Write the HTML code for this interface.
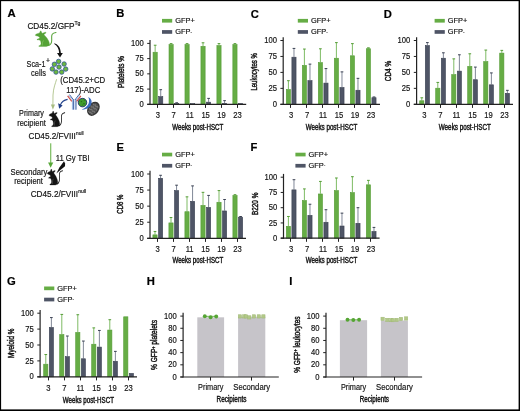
<!DOCTYPE html>
<html><head><meta charset="utf-8"><style>
html,body{margin:0;padding:0;background:#fff;}
body{position:relative;width:520px;height:411px;overflow:hidden;}
svg{display:block;}
text{font-family:'Liberation Sans', sans-serif;stroke:#151515;stroke-width:0.18px;}
svg{filter:blur(0.3px);}
</style></head><body>
<svg width="520" height="411" viewBox="0 0 520 411">
<rect x="0" y="0" width="520" height="411" fill="#fff"/>
<line x1="155.15" y1="45.23" x2="155.15" y2="51.93" stroke="#6fb352" stroke-width="0.9"/>
<line x1="153.80" y1="45.23" x2="156.50" y2="45.23" stroke="#559c36" stroke-width="1.0"/>
<rect x="153.05" y="52.23" width="4.20" height="52.07" fill="#66ad45" stroke="#559c36" stroke-width="0.6"/>
<line x1="160.72" y1="89.68" x2="160.72" y2="96.38" stroke="#737a8b" stroke-width="0.9"/>
<line x1="159.38" y1="89.68" x2="162.07" y2="89.68" stroke="#3a4152" stroke-width="1.0"/>
<rect x="158.65" y="96.68" width="4.15" height="7.62" fill="#4f5566" stroke="#3a4152" stroke-width="0.6"/>
<line x1="171.11" y1="43.64" x2="171.11" y2="44.31" stroke="#6fb352" stroke-width="0.9"/>
<line x1="169.76" y1="43.64" x2="172.46" y2="43.64" stroke="#559c36" stroke-width="1.0"/>
<rect x="169.01" y="44.61" width="4.20" height="59.69" fill="#66ad45" stroke="#559c36" stroke-width="0.6"/>
<line x1="176.69" y1="102.78" x2="176.69" y2="103.20" stroke="#737a8b" stroke-width="0.9"/>
<line x1="175.34" y1="102.78" x2="178.03" y2="102.78" stroke="#3a4152" stroke-width="1.0"/>
<rect x="174.61" y="103.50" width="4.15" height="0.80" fill="#4f5566" stroke="#3a4152" stroke-width="0.6"/>
<line x1="187.07" y1="43.64" x2="187.07" y2="44.31" stroke="#6fb352" stroke-width="0.9"/>
<line x1="185.72" y1="43.64" x2="188.42" y2="43.64" stroke="#559c36" stroke-width="1.0"/>
<rect x="184.97" y="44.61" width="4.20" height="59.69" fill="#66ad45" stroke="#559c36" stroke-width="0.6"/>
<rect x="190.57" y="103.63" width="4.15" height="0.67" fill="#4f5566" stroke="#3a4152" stroke-width="0.6"/>
<line x1="203.03" y1="42.79" x2="203.03" y2="46.02" stroke="#6fb352" stroke-width="0.9"/>
<line x1="201.68" y1="42.79" x2="204.38" y2="42.79" stroke="#559c36" stroke-width="1.0"/>
<rect x="200.93" y="46.32" width="4.20" height="57.98" fill="#66ad45" stroke="#559c36" stroke-width="0.6"/>
<line x1="208.60" y1="98.39" x2="208.60" y2="101.86" stroke="#737a8b" stroke-width="0.9"/>
<line x1="207.25" y1="98.39" x2="209.95" y2="98.39" stroke="#3a4152" stroke-width="1.0"/>
<rect x="206.53" y="102.16" width="4.15" height="2.14" fill="#4f5566" stroke="#3a4152" stroke-width="0.6"/>
<line x1="218.99" y1="43.64" x2="218.99" y2="45.29" stroke="#6fb352" stroke-width="0.9"/>
<line x1="217.64" y1="43.64" x2="220.34" y2="43.64" stroke="#559c36" stroke-width="1.0"/>
<rect x="216.89" y="45.59" width="4.20" height="58.71" fill="#66ad45" stroke="#559c36" stroke-width="0.6"/>
<line x1="224.56" y1="100.65" x2="224.56" y2="103.08" stroke="#737a8b" stroke-width="0.9"/>
<line x1="223.22" y1="100.65" x2="225.91" y2="100.65" stroke="#3a4152" stroke-width="1.0"/>
<rect x="222.49" y="103.38" width="4.15" height="0.92" fill="#4f5566" stroke="#3a4152" stroke-width="0.6"/>
<line x1="234.95" y1="43.64" x2="234.95" y2="44.31" stroke="#6fb352" stroke-width="0.9"/>
<line x1="233.60" y1="43.64" x2="236.30" y2="43.64" stroke="#559c36" stroke-width="1.0"/>
<rect x="232.85" y="44.61" width="4.20" height="59.69" fill="#66ad45" stroke="#559c36" stroke-width="0.6"/>
<rect x="238.45" y="103.50" width="4.15" height="0.80" fill="#4f5566" stroke="#3a4152" stroke-width="0.6"/>
<line x1="150.00" y1="40.10" x2="150.00" y2="104.90" stroke="#222" stroke-width="1.2"/>
<line x1="147.20" y1="104.30" x2="246.20" y2="104.30" stroke="#222" stroke-width="1.2"/>
<line x1="147.20" y1="104.30" x2="150.00" y2="104.30" stroke="#222" stroke-width="1.0"/>
<text transform="translate(143.70 106.90) scale(0.92 1)" font-size="8.3" text-anchor="end" font-weight="normal" fill="#151515">0</text>
<line x1="147.20" y1="89.08" x2="150.00" y2="89.08" stroke="#222" stroke-width="1.0"/>
<text transform="translate(143.70 91.67) scale(0.92 1)" font-size="8.3" text-anchor="end" font-weight="normal" fill="#151515">25</text>
<line x1="147.20" y1="73.85" x2="150.00" y2="73.85" stroke="#222" stroke-width="1.0"/>
<text transform="translate(143.70 76.45) scale(0.92 1)" font-size="8.3" text-anchor="end" font-weight="normal" fill="#151515">50</text>
<line x1="147.20" y1="58.62" x2="150.00" y2="58.62" stroke="#222" stroke-width="1.0"/>
<text transform="translate(143.70 61.23) scale(0.92 1)" font-size="8.3" text-anchor="end" font-weight="normal" fill="#151515">75</text>
<line x1="147.20" y1="43.40" x2="150.00" y2="43.40" stroke="#222" stroke-width="1.0"/>
<text transform="translate(143.70 46.00) scale(0.92 1)" font-size="8.3" text-anchor="end" font-weight="normal" fill="#151515">100</text>
<line x1="157.50" y1="104.30" x2="157.50" y2="107.90" stroke="#222" stroke-width="1.0"/>
<text transform="translate(157.75 118.10) scale(0.92 1)" font-size="8.3" text-anchor="middle" font-weight="normal" fill="#151515">3</text>
<line x1="173.50" y1="104.30" x2="173.50" y2="107.90" stroke="#222" stroke-width="1.0"/>
<text transform="translate(173.71 118.10) scale(0.92 1)" font-size="8.3" text-anchor="middle" font-weight="normal" fill="#151515">7</text>
<line x1="189.50" y1="104.30" x2="189.50" y2="107.90" stroke="#222" stroke-width="1.0"/>
<text transform="translate(189.67 118.10) scale(0.92 1)" font-size="8.3" text-anchor="middle" font-weight="normal" fill="#151515">11</text>
<line x1="205.50" y1="104.30" x2="205.50" y2="107.90" stroke="#222" stroke-width="1.0"/>
<text transform="translate(205.63 118.10) scale(0.92 1)" font-size="8.3" text-anchor="middle" font-weight="normal" fill="#151515">15</text>
<line x1="221.50" y1="104.30" x2="221.50" y2="107.90" stroke="#222" stroke-width="1.0"/>
<text transform="translate(221.59 118.10) scale(0.92 1)" font-size="8.3" text-anchor="middle" font-weight="normal" fill="#151515">19</text>
<line x1="237.50" y1="104.30" x2="237.50" y2="107.90" stroke="#222" stroke-width="1.0"/>
<text transform="translate(237.55 118.10) scale(0.92 1)" font-size="8.3" text-anchor="middle" font-weight="normal" fill="#151515">23</text>
<text x="172.30" y="129.50" font-size="8.6" text-anchor="start" font-weight="normal" fill="#151515" textLength="51.00" lengthAdjust="spacingAndGlyphs" style="stroke-width:0.45px">Weeks post-HSCT</text>
<text x="124.00" y="72.00" font-size="8.8" text-anchor="middle" font-weight="normal" fill="#151515" textLength="32.10" lengthAdjust="spacingAndGlyphs" transform="rotate(-90 124.00 72.00)" style="stroke-width:0.45px">Platelets %</text>
<rect x="162.00" y="18.90" width="10.20" height="3.70" fill="#66ad45"/>
<rect x="162.00" y="30.10" width="10.20" height="3.70" fill="#4f5566"/>
<text x="175.20" y="22.90" font-size="7.4" text-anchor="start" font-weight="normal" fill="#151515">GFP+</text>
<text x="175.20" y="34.20" font-size="7.4" text-anchor="start" font-weight="normal" fill="#151515">GFP<tspan font-size="4.6" dy="-0.6">-</tspan></text>
<text x="116.30" y="17.00" font-size="11.2" text-anchor="start" font-weight="bold" fill="#000" style="stroke:#000;stroke-width:0.2px">B</text>
<line x1="288.40" y1="80.69" x2="288.40" y2="89.24" stroke="#6fb352" stroke-width="0.9"/>
<line x1="287.05" y1="80.69" x2="289.75" y2="80.69" stroke="#559c36" stroke-width="1.0"/>
<rect x="286.30" y="89.54" width="4.20" height="14.76" fill="#66ad45" stroke="#559c36" stroke-width="0.6"/>
<line x1="293.98" y1="48.41" x2="293.98" y2="56.90" stroke="#737a8b" stroke-width="0.9"/>
<line x1="292.62" y1="48.41" x2="295.33" y2="48.41" stroke="#3a4152" stroke-width="1.0"/>
<rect x="291.90" y="57.20" width="4.15" height="47.10" fill="#4f5566" stroke="#3a4152" stroke-width="0.6"/>
<line x1="304.40" y1="49.05" x2="304.40" y2="65.06" stroke="#6fb352" stroke-width="0.9"/>
<line x1="303.05" y1="49.05" x2="305.75" y2="49.05" stroke="#559c36" stroke-width="1.0"/>
<rect x="302.30" y="65.36" width="4.20" height="38.94" fill="#66ad45" stroke="#559c36" stroke-width="0.6"/>
<line x1="309.98" y1="64.11" x2="309.98" y2="80.38" stroke="#737a8b" stroke-width="0.9"/>
<line x1="308.62" y1="64.11" x2="311.33" y2="64.11" stroke="#3a4152" stroke-width="1.0"/>
<rect x="307.90" y="80.67" width="4.15" height="23.62" fill="#4f5566" stroke="#3a4152" stroke-width="0.6"/>
<line x1="320.40" y1="48.79" x2="320.40" y2="62.32" stroke="#6fb352" stroke-width="0.9"/>
<line x1="319.05" y1="48.79" x2="321.75" y2="48.79" stroke="#559c36" stroke-width="1.0"/>
<rect x="318.30" y="62.62" width="4.20" height="41.68" fill="#66ad45" stroke="#559c36" stroke-width="0.6"/>
<line x1="325.98" y1="68.57" x2="325.98" y2="82.80" stroke="#737a8b" stroke-width="0.9"/>
<line x1="324.62" y1="68.57" x2="327.33" y2="68.57" stroke="#3a4152" stroke-width="1.0"/>
<rect x="323.90" y="83.10" width="4.15" height="21.20" fill="#4f5566" stroke="#3a4152" stroke-width="0.6"/>
<line x1="336.40" y1="42.61" x2="336.40" y2="57.92" stroke="#6fb352" stroke-width="0.9"/>
<line x1="335.05" y1="42.61" x2="337.75" y2="42.61" stroke="#559c36" stroke-width="1.0"/>
<rect x="334.30" y="58.22" width="4.20" height="46.08" fill="#66ad45" stroke="#559c36" stroke-width="0.6"/>
<line x1="341.98" y1="71.89" x2="341.98" y2="87.20" stroke="#737a8b" stroke-width="0.9"/>
<line x1="340.62" y1="71.89" x2="343.33" y2="71.89" stroke="#3a4152" stroke-width="1.0"/>
<rect x="339.90" y="87.50" width="4.15" height="16.80" fill="#4f5566" stroke="#3a4152" stroke-width="0.6"/>
<line x1="352.40" y1="43.63" x2="352.40" y2="55.49" stroke="#6fb352" stroke-width="0.9"/>
<line x1="351.05" y1="43.63" x2="353.75" y2="43.63" stroke="#559c36" stroke-width="1.0"/>
<rect x="350.30" y="55.79" width="4.20" height="48.51" fill="#66ad45" stroke="#559c36" stroke-width="0.6"/>
<line x1="357.98" y1="78.33" x2="357.98" y2="89.94" stroke="#737a8b" stroke-width="0.9"/>
<line x1="356.62" y1="78.33" x2="359.33" y2="78.33" stroke="#3a4152" stroke-width="1.0"/>
<rect x="355.90" y="90.24" width="4.15" height="14.06" fill="#4f5566" stroke="#3a4152" stroke-width="0.6"/>
<line x1="368.40" y1="47.84" x2="368.40" y2="48.41" stroke="#6fb352" stroke-width="0.9"/>
<line x1="367.05" y1="47.84" x2="369.75" y2="47.84" stroke="#559c36" stroke-width="1.0"/>
<rect x="366.30" y="48.71" width="4.20" height="55.59" fill="#66ad45" stroke="#559c36" stroke-width="0.6"/>
<line x1="373.98" y1="96.96" x2="373.98" y2="97.41" stroke="#737a8b" stroke-width="0.9"/>
<line x1="372.62" y1="96.96" x2="375.33" y2="96.96" stroke="#3a4152" stroke-width="1.0"/>
<rect x="371.90" y="97.71" width="4.15" height="6.59" fill="#4f5566" stroke="#3a4152" stroke-width="0.6"/>
<line x1="283.20" y1="37.20" x2="283.20" y2="104.90" stroke="#222" stroke-width="1.2"/>
<line x1="280.40" y1="104.30" x2="380.00" y2="104.30" stroke="#222" stroke-width="1.2"/>
<line x1="280.40" y1="104.30" x2="283.20" y2="104.30" stroke="#222" stroke-width="1.0"/>
<text transform="translate(276.90 106.90) scale(0.92 1)" font-size="8.3" text-anchor="end" font-weight="normal" fill="#151515">0</text>
<line x1="280.40" y1="88.35" x2="283.20" y2="88.35" stroke="#222" stroke-width="1.0"/>
<text transform="translate(276.90 90.95) scale(0.92 1)" font-size="8.3" text-anchor="end" font-weight="normal" fill="#151515">25</text>
<line x1="280.40" y1="72.40" x2="283.20" y2="72.40" stroke="#222" stroke-width="1.0"/>
<text transform="translate(276.90 75.00) scale(0.92 1)" font-size="8.3" text-anchor="end" font-weight="normal" fill="#151515">50</text>
<line x1="280.40" y1="56.45" x2="283.20" y2="56.45" stroke="#222" stroke-width="1.0"/>
<text transform="translate(276.90 59.05) scale(0.92 1)" font-size="8.3" text-anchor="end" font-weight="normal" fill="#151515">75</text>
<line x1="280.40" y1="40.50" x2="283.20" y2="40.50" stroke="#222" stroke-width="1.0"/>
<text transform="translate(276.90 43.10) scale(0.92 1)" font-size="8.3" text-anchor="end" font-weight="normal" fill="#151515">100</text>
<line x1="290.50" y1="104.30" x2="290.50" y2="107.90" stroke="#222" stroke-width="1.0"/>
<text transform="translate(291.00 118.10) scale(0.92 1)" font-size="8.3" text-anchor="middle" font-weight="normal" fill="#151515">3</text>
<line x1="306.50" y1="104.30" x2="306.50" y2="107.90" stroke="#222" stroke-width="1.0"/>
<text transform="translate(307.00 118.10) scale(0.92 1)" font-size="8.3" text-anchor="middle" font-weight="normal" fill="#151515">7</text>
<line x1="322.50" y1="104.30" x2="322.50" y2="107.90" stroke="#222" stroke-width="1.0"/>
<text transform="translate(323.00 118.10) scale(0.92 1)" font-size="8.3" text-anchor="middle" font-weight="normal" fill="#151515">11</text>
<line x1="338.50" y1="104.30" x2="338.50" y2="107.90" stroke="#222" stroke-width="1.0"/>
<text transform="translate(339.00 118.10) scale(0.92 1)" font-size="8.3" text-anchor="middle" font-weight="normal" fill="#151515">15</text>
<line x1="354.50" y1="104.30" x2="354.50" y2="107.90" stroke="#222" stroke-width="1.0"/>
<text transform="translate(355.00 118.10) scale(0.92 1)" font-size="8.3" text-anchor="middle" font-weight="normal" fill="#151515">19</text>
<line x1="370.50" y1="104.30" x2="370.50" y2="107.90" stroke="#222" stroke-width="1.0"/>
<text transform="translate(371.00 118.10) scale(0.92 1)" font-size="8.3" text-anchor="middle" font-weight="normal" fill="#151515">23</text>
<text x="305.80" y="129.70" font-size="8.6" text-anchor="start" font-weight="normal" fill="#151515" textLength="51.40" lengthAdjust="spacingAndGlyphs" style="stroke-width:0.45px">Weeks post-HSCT</text>
<text x="257.30" y="71.90" font-size="8.8" text-anchor="middle" font-weight="normal" fill="#151515" textLength="37.40" lengthAdjust="spacingAndGlyphs" transform="rotate(-90 257.30 71.90)" style="stroke-width:0.45px">Leukocytes %</text>
<rect x="297.80" y="18.90" width="10.20" height="3.70" fill="#66ad45"/>
<rect x="297.80" y="30.10" width="10.20" height="3.70" fill="#4f5566"/>
<text x="311.00" y="22.90" font-size="7.4" text-anchor="start" font-weight="normal" fill="#151515">GFP+</text>
<text x="311.00" y="34.20" font-size="7.4" text-anchor="start" font-weight="normal" fill="#151515">GFP<tspan font-size="4.6" dy="-0.6">-</tspan></text>
<text x="250.80" y="17.70" font-size="11.2" text-anchor="start" font-weight="bold" fill="#000" style="stroke:#000;stroke-width:0.2px">C</text>
<line x1="421.80" y1="97.79" x2="421.80" y2="100.47" stroke="#6fb352" stroke-width="0.9"/>
<line x1="420.45" y1="97.79" x2="423.15" y2="97.79" stroke="#559c36" stroke-width="1.0"/>
<rect x="419.70" y="100.77" width="4.20" height="3.53" fill="#66ad45" stroke="#559c36" stroke-width="0.6"/>
<line x1="427.38" y1="42.61" x2="427.38" y2="45.28" stroke="#737a8b" stroke-width="0.9"/>
<line x1="426.02" y1="42.61" x2="428.73" y2="42.61" stroke="#3a4152" stroke-width="1.0"/>
<rect x="425.30" y="45.58" width="4.15" height="58.72" fill="#4f5566" stroke="#3a4152" stroke-width="0.6"/>
<line x1="437.80" y1="82.42" x2="437.80" y2="87.90" stroke="#6fb352" stroke-width="0.9"/>
<line x1="436.45" y1="82.42" x2="439.15" y2="82.42" stroke="#559c36" stroke-width="1.0"/>
<rect x="435.70" y="88.20" width="4.20" height="16.10" fill="#66ad45" stroke="#559c36" stroke-width="0.6"/>
<line x1="443.38" y1="52.81" x2="443.38" y2="57.92" stroke="#737a8b" stroke-width="0.9"/>
<line x1="442.02" y1="52.81" x2="444.73" y2="52.81" stroke="#3a4152" stroke-width="1.0"/>
<rect x="441.30" y="58.22" width="4.15" height="46.08" fill="#4f5566" stroke="#3a4152" stroke-width="0.6"/>
<line x1="453.80" y1="58.87" x2="453.80" y2="74.31" stroke="#6fb352" stroke-width="0.9"/>
<line x1="452.45" y1="58.87" x2="455.15" y2="58.87" stroke="#559c36" stroke-width="1.0"/>
<rect x="451.70" y="74.61" width="4.20" height="29.69" fill="#66ad45" stroke="#559c36" stroke-width="0.6"/>
<line x1="459.38" y1="54.79" x2="459.38" y2="70.81" stroke="#737a8b" stroke-width="0.9"/>
<line x1="458.02" y1="54.79" x2="460.73" y2="54.79" stroke="#3a4152" stroke-width="1.0"/>
<rect x="457.30" y="71.11" width="4.15" height="33.19" fill="#4f5566" stroke="#3a4152" stroke-width="0.6"/>
<line x1="469.80" y1="53.77" x2="469.80" y2="66.08" stroke="#6fb352" stroke-width="0.9"/>
<line x1="468.45" y1="53.77" x2="471.15" y2="53.77" stroke="#559c36" stroke-width="1.0"/>
<rect x="467.70" y="66.38" width="4.20" height="37.92" fill="#66ad45" stroke="#559c36" stroke-width="0.6"/>
<line x1="475.38" y1="67.10" x2="475.38" y2="79.42" stroke="#737a8b" stroke-width="0.9"/>
<line x1="474.02" y1="67.10" x2="476.73" y2="67.10" stroke="#3a4152" stroke-width="1.0"/>
<rect x="473.30" y="79.72" width="4.15" height="24.58" fill="#4f5566" stroke="#3a4152" stroke-width="0.6"/>
<line x1="485.80" y1="50.07" x2="485.80" y2="61.30" stroke="#6fb352" stroke-width="0.9"/>
<line x1="484.45" y1="50.07" x2="487.15" y2="50.07" stroke="#559c36" stroke-width="1.0"/>
<rect x="483.70" y="61.60" width="4.20" height="42.70" fill="#66ad45" stroke="#559c36" stroke-width="0.6"/>
<line x1="491.38" y1="72.91" x2="491.38" y2="84.52" stroke="#737a8b" stroke-width="0.9"/>
<line x1="490.02" y1="72.91" x2="492.73" y2="72.91" stroke="#3a4152" stroke-width="1.0"/>
<rect x="489.30" y="84.82" width="4.15" height="19.48" fill="#4f5566" stroke="#3a4152" stroke-width="0.6"/>
<line x1="501.80" y1="50.39" x2="501.80" y2="52.81" stroke="#6fb352" stroke-width="0.9"/>
<line x1="500.45" y1="50.39" x2="503.15" y2="50.39" stroke="#559c36" stroke-width="1.0"/>
<rect x="499.70" y="53.11" width="4.20" height="51.19" fill="#66ad45" stroke="#559c36" stroke-width="0.6"/>
<line x1="507.38" y1="90.33" x2="507.38" y2="93.01" stroke="#737a8b" stroke-width="0.9"/>
<line x1="506.02" y1="90.33" x2="508.73" y2="90.33" stroke="#3a4152" stroke-width="1.0"/>
<rect x="505.30" y="93.31" width="4.15" height="10.99" fill="#4f5566" stroke="#3a4152" stroke-width="0.6"/>
<line x1="416.60" y1="37.20" x2="416.60" y2="104.90" stroke="#222" stroke-width="1.2"/>
<line x1="413.80" y1="104.30" x2="513.00" y2="104.30" stroke="#222" stroke-width="1.2"/>
<line x1="413.80" y1="104.30" x2="416.60" y2="104.30" stroke="#222" stroke-width="1.0"/>
<text transform="translate(410.30 106.90) scale(0.92 1)" font-size="8.3" text-anchor="end" font-weight="normal" fill="#151515">0</text>
<line x1="413.80" y1="88.35" x2="416.60" y2="88.35" stroke="#222" stroke-width="1.0"/>
<text transform="translate(410.30 90.95) scale(0.92 1)" font-size="8.3" text-anchor="end" font-weight="normal" fill="#151515">25</text>
<line x1="413.80" y1="72.40" x2="416.60" y2="72.40" stroke="#222" stroke-width="1.0"/>
<text transform="translate(410.30 75.00) scale(0.92 1)" font-size="8.3" text-anchor="end" font-weight="normal" fill="#151515">50</text>
<line x1="413.80" y1="56.45" x2="416.60" y2="56.45" stroke="#222" stroke-width="1.0"/>
<text transform="translate(410.30 59.05) scale(0.92 1)" font-size="8.3" text-anchor="end" font-weight="normal" fill="#151515">75</text>
<line x1="413.80" y1="40.50" x2="416.60" y2="40.50" stroke="#222" stroke-width="1.0"/>
<text transform="translate(410.30 43.10) scale(0.92 1)" font-size="8.3" text-anchor="end" font-weight="normal" fill="#151515">100</text>
<line x1="424.50" y1="104.30" x2="424.50" y2="107.90" stroke="#222" stroke-width="1.0"/>
<text transform="translate(424.40 118.10) scale(0.92 1)" font-size="8.3" text-anchor="middle" font-weight="normal" fill="#151515">3</text>
<line x1="440.50" y1="104.30" x2="440.50" y2="107.90" stroke="#222" stroke-width="1.0"/>
<text transform="translate(440.40 118.10) scale(0.92 1)" font-size="8.3" text-anchor="middle" font-weight="normal" fill="#151515">7</text>
<line x1="456.50" y1="104.30" x2="456.50" y2="107.90" stroke="#222" stroke-width="1.0"/>
<text transform="translate(456.40 118.10) scale(0.92 1)" font-size="8.3" text-anchor="middle" font-weight="normal" fill="#151515">11</text>
<line x1="472.50" y1="104.30" x2="472.50" y2="107.90" stroke="#222" stroke-width="1.0"/>
<text transform="translate(472.40 118.10) scale(0.92 1)" font-size="8.3" text-anchor="middle" font-weight="normal" fill="#151515">15</text>
<line x1="488.50" y1="104.30" x2="488.50" y2="107.90" stroke="#222" stroke-width="1.0"/>
<text transform="translate(488.40 118.10) scale(0.92 1)" font-size="8.3" text-anchor="middle" font-weight="normal" fill="#151515">19</text>
<line x1="504.50" y1="104.30" x2="504.50" y2="107.90" stroke="#222" stroke-width="1.0"/>
<text transform="translate(504.40 118.10) scale(0.92 1)" font-size="8.3" text-anchor="middle" font-weight="normal" fill="#151515">23</text>
<text x="438.80" y="129.70" font-size="8.6" text-anchor="start" font-weight="normal" fill="#151515" textLength="52.00" lengthAdjust="spacingAndGlyphs" style="stroke-width:0.45px">Weeks post-HSCT</text>
<text x="391.30" y="71.00" font-size="8.8" text-anchor="middle" font-weight="normal" fill="#151515" textLength="20.30" lengthAdjust="spacingAndGlyphs" transform="rotate(-90 391.30 71.00)" style="stroke-width:0.45px">CD4 %</text>
<rect x="434.60" y="18.90" width="10.20" height="3.70" fill="#66ad45"/>
<rect x="434.60" y="30.10" width="10.20" height="3.70" fill="#4f5566"/>
<text x="447.80" y="22.90" font-size="7.4" text-anchor="start" font-weight="normal" fill="#151515">GFP+</text>
<text x="447.80" y="34.20" font-size="7.4" text-anchor="start" font-weight="normal" fill="#151515">GFP<tspan font-size="4.6" dy="-0.6">-</tspan></text>
<text x="383.80" y="17.70" font-size="11.2" text-anchor="start" font-weight="bold" fill="#000" style="stroke:#000;stroke-width:0.2px">D</text>
<line x1="155.00" y1="231.48" x2="155.00" y2="234.57" stroke="#6fb352" stroke-width="0.9"/>
<line x1="153.65" y1="231.48" x2="156.35" y2="231.48" stroke="#559c36" stroke-width="1.0"/>
<rect x="152.90" y="234.87" width="4.20" height="3.43" fill="#66ad45" stroke="#559c36" stroke-width="0.6"/>
<line x1="160.57" y1="175.29" x2="160.57" y2="177.99" stroke="#737a8b" stroke-width="0.9"/>
<line x1="159.22" y1="175.29" x2="161.92" y2="175.29" stroke="#3a4152" stroke-width="1.0"/>
<rect x="158.50" y="178.29" width="4.15" height="60.01" fill="#4f5566" stroke="#3a4152" stroke-width="0.6"/>
<line x1="171.00" y1="217.53" x2="171.00" y2="222.61" stroke="#6fb352" stroke-width="0.9"/>
<line x1="169.65" y1="217.53" x2="172.35" y2="217.53" stroke="#559c36" stroke-width="1.0"/>
<rect x="168.90" y="222.91" width="4.20" height="15.39" fill="#66ad45" stroke="#559c36" stroke-width="0.6"/>
<line x1="176.57" y1="185.19" x2="176.57" y2="190.27" stroke="#737a8b" stroke-width="0.9"/>
<line x1="175.22" y1="185.19" x2="177.92" y2="185.19" stroke="#3a4152" stroke-width="1.0"/>
<rect x="174.50" y="190.57" width="4.15" height="47.73" fill="#4f5566" stroke="#3a4152" stroke-width="0.6"/>
<line x1="187.00" y1="196.83" x2="187.00" y2="211.42" stroke="#6fb352" stroke-width="0.9"/>
<line x1="185.65" y1="196.83" x2="188.35" y2="196.83" stroke="#559c36" stroke-width="1.0"/>
<rect x="184.90" y="211.72" width="4.20" height="26.58" fill="#66ad45" stroke="#559c36" stroke-width="0.6"/>
<line x1="192.57" y1="185.90" x2="192.57" y2="201.01" stroke="#737a8b" stroke-width="0.9"/>
<line x1="191.22" y1="185.90" x2="193.92" y2="185.90" stroke="#3a4152" stroke-width="1.0"/>
<rect x="190.50" y="201.31" width="4.15" height="36.99" fill="#4f5566" stroke="#3a4152" stroke-width="0.6"/>
<line x1="203.00" y1="192.33" x2="203.00" y2="205.12" stroke="#6fb352" stroke-width="0.9"/>
<line x1="201.65" y1="192.33" x2="204.35" y2="192.33" stroke="#559c36" stroke-width="1.0"/>
<rect x="200.90" y="205.42" width="4.20" height="32.88" fill="#66ad45" stroke="#559c36" stroke-width="0.6"/>
<line x1="208.57" y1="195.41" x2="208.57" y2="207.11" stroke="#737a8b" stroke-width="0.9"/>
<line x1="207.22" y1="195.41" x2="209.92" y2="195.41" stroke="#3a4152" stroke-width="1.0"/>
<rect x="206.50" y="207.41" width="4.15" height="30.89" fill="#4f5566" stroke="#3a4152" stroke-width="0.6"/>
<line x1="219.00" y1="190.59" x2="219.00" y2="201.97" stroke="#6fb352" stroke-width="0.9"/>
<line x1="217.65" y1="190.59" x2="220.35" y2="190.59" stroke="#559c36" stroke-width="1.0"/>
<rect x="216.90" y="202.27" width="4.20" height="36.03" fill="#66ad45" stroke="#559c36" stroke-width="0.6"/>
<line x1="224.57" y1="199.53" x2="224.57" y2="210.65" stroke="#737a8b" stroke-width="0.9"/>
<line x1="223.22" y1="199.53" x2="225.92" y2="199.53" stroke="#3a4152" stroke-width="1.0"/>
<rect x="222.50" y="210.95" width="4.15" height="27.35" fill="#4f5566" stroke="#3a4152" stroke-width="0.6"/>
<line x1="235.00" y1="194.70" x2="235.00" y2="195.22" stroke="#6fb352" stroke-width="0.9"/>
<line x1="233.65" y1="194.70" x2="236.35" y2="194.70" stroke="#559c36" stroke-width="1.0"/>
<rect x="232.90" y="195.52" width="4.20" height="42.78" fill="#66ad45" stroke="#559c36" stroke-width="0.6"/>
<line x1="240.57" y1="216.50" x2="240.57" y2="216.89" stroke="#737a8b" stroke-width="0.9"/>
<line x1="239.22" y1="216.50" x2="241.92" y2="216.50" stroke="#3a4152" stroke-width="1.0"/>
<rect x="238.50" y="217.19" width="4.15" height="21.11" fill="#4f5566" stroke="#3a4152" stroke-width="0.6"/>
<line x1="150.00" y1="170.70" x2="150.00" y2="238.90" stroke="#222" stroke-width="1.2"/>
<line x1="147.20" y1="238.30" x2="246.00" y2="238.30" stroke="#222" stroke-width="1.2"/>
<line x1="147.20" y1="238.30" x2="150.00" y2="238.30" stroke="#222" stroke-width="1.0"/>
<text transform="translate(143.70 240.90) scale(0.92 1)" font-size="8.3" text-anchor="end" font-weight="normal" fill="#151515">0</text>
<line x1="147.20" y1="222.23" x2="150.00" y2="222.23" stroke="#222" stroke-width="1.0"/>
<text transform="translate(143.70 224.83) scale(0.92 1)" font-size="8.3" text-anchor="end" font-weight="normal" fill="#151515">25</text>
<line x1="147.20" y1="206.15" x2="150.00" y2="206.15" stroke="#222" stroke-width="1.0"/>
<text transform="translate(143.70 208.75) scale(0.92 1)" font-size="8.3" text-anchor="end" font-weight="normal" fill="#151515">50</text>
<line x1="147.20" y1="190.07" x2="150.00" y2="190.07" stroke="#222" stroke-width="1.0"/>
<text transform="translate(143.70 192.67) scale(0.92 1)" font-size="8.3" text-anchor="end" font-weight="normal" fill="#151515">75</text>
<line x1="147.20" y1="174.00" x2="150.00" y2="174.00" stroke="#222" stroke-width="1.0"/>
<text transform="translate(143.70 176.60) scale(0.92 1)" font-size="8.3" text-anchor="end" font-weight="normal" fill="#151515">100</text>
<line x1="157.50" y1="238.30" x2="157.50" y2="241.90" stroke="#222" stroke-width="1.0"/>
<text transform="translate(157.60 252.10) scale(0.92 1)" font-size="8.3" text-anchor="middle" font-weight="normal" fill="#151515">3</text>
<line x1="173.50" y1="238.30" x2="173.50" y2="241.90" stroke="#222" stroke-width="1.0"/>
<text transform="translate(173.60 252.10) scale(0.92 1)" font-size="8.3" text-anchor="middle" font-weight="normal" fill="#151515">7</text>
<line x1="189.50" y1="238.30" x2="189.50" y2="241.90" stroke="#222" stroke-width="1.0"/>
<text transform="translate(189.60 252.10) scale(0.92 1)" font-size="8.3" text-anchor="middle" font-weight="normal" fill="#151515">11</text>
<line x1="205.50" y1="238.30" x2="205.50" y2="241.90" stroke="#222" stroke-width="1.0"/>
<text transform="translate(205.60 252.10) scale(0.92 1)" font-size="8.3" text-anchor="middle" font-weight="normal" fill="#151515">15</text>
<line x1="221.50" y1="238.30" x2="221.50" y2="241.90" stroke="#222" stroke-width="1.0"/>
<text transform="translate(221.60 252.10) scale(0.92 1)" font-size="8.3" text-anchor="middle" font-weight="normal" fill="#151515">19</text>
<line x1="237.50" y1="238.30" x2="237.50" y2="241.90" stroke="#222" stroke-width="1.0"/>
<text transform="translate(237.60 252.10) scale(0.92 1)" font-size="8.3" text-anchor="middle" font-weight="normal" fill="#151515">23</text>
<text x="172.50" y="263.10" font-size="8.6" text-anchor="start" font-weight="normal" fill="#151515" textLength="50.70" lengthAdjust="spacingAndGlyphs" style="stroke-width:0.45px">Weeks post-HSCT</text>
<text x="123.30" y="204.10" font-size="8.8" text-anchor="middle" font-weight="normal" fill="#151515" textLength="19.20" lengthAdjust="spacingAndGlyphs" transform="rotate(-90 123.30 204.10)" style="stroke-width:0.45px">CD8 %</text>
<rect x="162.00" y="152.70" width="10.20" height="3.70" fill="#66ad45"/>
<rect x="162.00" y="163.90" width="10.20" height="3.70" fill="#4f5566"/>
<text x="175.20" y="156.70" font-size="7.4" text-anchor="start" font-weight="normal" fill="#151515">GFP+</text>
<text x="175.20" y="168.00" font-size="7.4" text-anchor="start" font-weight="normal" fill="#151515">GFP<tspan font-size="4.6" dy="-0.6">-</tspan></text>
<text x="116.50" y="151.10" font-size="11.2" text-anchor="start" font-weight="bold" fill="#000" style="stroke:#000;stroke-width:0.2px">E</text>
<line x1="288.40" y1="216.48" x2="288.40" y2="226.00" stroke="#6fb352" stroke-width="0.9"/>
<line x1="287.05" y1="216.48" x2="289.75" y2="216.48" stroke="#559c36" stroke-width="1.0"/>
<rect x="286.30" y="226.30" width="4.20" height="11.90" fill="#66ad45" stroke="#559c36" stroke-width="0.6"/>
<line x1="293.98" y1="179.70" x2="293.98" y2="189.58" stroke="#737a8b" stroke-width="0.9"/>
<line x1="292.62" y1="179.70" x2="295.33" y2="179.70" stroke="#3a4152" stroke-width="1.0"/>
<rect x="291.90" y="189.88" width="4.15" height="48.32" fill="#4f5566" stroke="#3a4152" stroke-width="0.6"/>
<line x1="304.40" y1="188.91" x2="304.40" y2="200.20" stroke="#6fb352" stroke-width="0.9"/>
<line x1="303.05" y1="188.91" x2="305.75" y2="188.91" stroke="#559c36" stroke-width="1.0"/>
<rect x="302.30" y="200.50" width="4.20" height="37.70" fill="#66ad45" stroke="#559c36" stroke-width="0.6"/>
<line x1="309.98" y1="204.22" x2="309.98" y2="215.08" stroke="#737a8b" stroke-width="0.9"/>
<line x1="308.62" y1="204.22" x2="311.33" y2="204.22" stroke="#3a4152" stroke-width="1.0"/>
<rect x="307.90" y="215.38" width="4.15" height="22.82" fill="#4f5566" stroke="#3a4152" stroke-width="0.6"/>
<line x1="320.40" y1="181.41" x2="320.40" y2="193.67" stroke="#6fb352" stroke-width="0.9"/>
<line x1="319.05" y1="181.41" x2="321.75" y2="181.41" stroke="#559c36" stroke-width="1.0"/>
<rect x="318.30" y="193.97" width="4.20" height="44.23" fill="#66ad45" stroke="#559c36" stroke-width="0.6"/>
<line x1="325.98" y1="209.71" x2="325.98" y2="221.97" stroke="#737a8b" stroke-width="0.9"/>
<line x1="324.62" y1="209.71" x2="327.33" y2="209.71" stroke="#3a4152" stroke-width="1.0"/>
<rect x="323.90" y="222.27" width="4.15" height="15.93" fill="#4f5566" stroke="#3a4152" stroke-width="0.6"/>
<line x1="336.40" y1="177.99" x2="336.40" y2="190.31" stroke="#6fb352" stroke-width="0.9"/>
<line x1="335.05" y1="177.99" x2="337.75" y2="177.99" stroke="#559c36" stroke-width="1.0"/>
<rect x="334.30" y="190.62" width="4.20" height="47.58" fill="#66ad45" stroke="#559c36" stroke-width="0.6"/>
<line x1="341.98" y1="213.13" x2="341.98" y2="225.69" stroke="#737a8b" stroke-width="0.9"/>
<line x1="340.62" y1="213.13" x2="343.33" y2="213.13" stroke="#3a4152" stroke-width="1.0"/>
<rect x="339.90" y="226.00" width="4.15" height="12.20" fill="#4f5566" stroke="#3a4152" stroke-width="0.6"/>
<line x1="352.40" y1="176.71" x2="352.40" y2="192.33" stroke="#6fb352" stroke-width="0.9"/>
<line x1="351.05" y1="176.71" x2="353.75" y2="176.71" stroke="#559c36" stroke-width="1.0"/>
<rect x="350.30" y="192.63" width="4.20" height="45.57" fill="#66ad45" stroke="#559c36" stroke-width="0.6"/>
<line x1="357.98" y1="207.70" x2="357.98" y2="223.01" stroke="#737a8b" stroke-width="0.9"/>
<line x1="356.62" y1="207.70" x2="359.33" y2="207.70" stroke="#3a4152" stroke-width="1.0"/>
<rect x="355.90" y="223.31" width="4.15" height="14.89" fill="#4f5566" stroke="#3a4152" stroke-width="0.6"/>
<line x1="368.40" y1="180.37" x2="368.40" y2="184.52" stroke="#6fb352" stroke-width="0.9"/>
<line x1="367.05" y1="180.37" x2="369.75" y2="180.37" stroke="#559c36" stroke-width="1.0"/>
<rect x="366.30" y="184.82" width="4.20" height="53.38" fill="#66ad45" stroke="#559c36" stroke-width="0.6"/>
<line x1="373.98" y1="227.40" x2="373.98" y2="231.19" stroke="#737a8b" stroke-width="0.9"/>
<line x1="372.62" y1="227.40" x2="375.33" y2="227.40" stroke="#3a4152" stroke-width="1.0"/>
<rect x="371.90" y="231.49" width="4.15" height="6.71" fill="#4f5566" stroke="#3a4152" stroke-width="0.6"/>
<line x1="283.50" y1="173.90" x2="283.50" y2="238.80" stroke="#222" stroke-width="1.2"/>
<line x1="280.70" y1="238.20" x2="379.60" y2="238.20" stroke="#222" stroke-width="1.2"/>
<line x1="280.70" y1="238.20" x2="283.50" y2="238.20" stroke="#222" stroke-width="1.0"/>
<text transform="translate(277.20 240.80) scale(0.92 1)" font-size="8.3" text-anchor="end" font-weight="normal" fill="#151515">0</text>
<line x1="280.70" y1="222.95" x2="283.50" y2="222.95" stroke="#222" stroke-width="1.0"/>
<text transform="translate(277.20 225.55) scale(0.92 1)" font-size="8.3" text-anchor="end" font-weight="normal" fill="#151515">25</text>
<line x1="280.70" y1="207.70" x2="283.50" y2="207.70" stroke="#222" stroke-width="1.0"/>
<text transform="translate(277.20 210.30) scale(0.92 1)" font-size="8.3" text-anchor="end" font-weight="normal" fill="#151515">50</text>
<line x1="280.70" y1="192.45" x2="283.50" y2="192.45" stroke="#222" stroke-width="1.0"/>
<text transform="translate(277.20 195.05) scale(0.92 1)" font-size="8.3" text-anchor="end" font-weight="normal" fill="#151515">75</text>
<line x1="280.70" y1="177.20" x2="283.50" y2="177.20" stroke="#222" stroke-width="1.0"/>
<text transform="translate(277.20 179.80) scale(0.92 1)" font-size="8.3" text-anchor="end" font-weight="normal" fill="#151515">100</text>
<line x1="290.50" y1="238.20" x2="290.50" y2="241.80" stroke="#222" stroke-width="1.0"/>
<text transform="translate(291.00 252.00) scale(0.92 1)" font-size="8.3" text-anchor="middle" font-weight="normal" fill="#151515">3</text>
<line x1="306.50" y1="238.20" x2="306.50" y2="241.80" stroke="#222" stroke-width="1.0"/>
<text transform="translate(307.00 252.00) scale(0.92 1)" font-size="8.3" text-anchor="middle" font-weight="normal" fill="#151515">7</text>
<line x1="322.50" y1="238.20" x2="322.50" y2="241.80" stroke="#222" stroke-width="1.0"/>
<text transform="translate(323.00 252.00) scale(0.92 1)" font-size="8.3" text-anchor="middle" font-weight="normal" fill="#151515">11</text>
<line x1="338.50" y1="238.20" x2="338.50" y2="241.80" stroke="#222" stroke-width="1.0"/>
<text transform="translate(339.00 252.00) scale(0.92 1)" font-size="8.3" text-anchor="middle" font-weight="normal" fill="#151515">15</text>
<line x1="354.50" y1="238.20" x2="354.50" y2="241.80" stroke="#222" stroke-width="1.0"/>
<text transform="translate(355.00 252.00) scale(0.92 1)" font-size="8.3" text-anchor="middle" font-weight="normal" fill="#151515">19</text>
<line x1="370.50" y1="238.20" x2="370.50" y2="241.80" stroke="#222" stroke-width="1.0"/>
<text transform="translate(371.00 252.00) scale(0.92 1)" font-size="8.3" text-anchor="middle" font-weight="normal" fill="#151515">23</text>
<text x="305.80" y="263.10" font-size="8.6" text-anchor="start" font-weight="normal" fill="#151515" textLength="51.40" lengthAdjust="spacingAndGlyphs" style="stroke-width:0.45px">Weeks post-HSCT</text>
<text x="257.90" y="203.85" font-size="8.8" text-anchor="middle" font-weight="normal" fill="#151515" textLength="22.50" lengthAdjust="spacingAndGlyphs" transform="rotate(-90 257.90 203.85)" style="stroke-width:0.45px">B220 %</text>
<rect x="295.40" y="152.70" width="10.20" height="3.70" fill="#66ad45"/>
<rect x="295.40" y="163.90" width="10.20" height="3.70" fill="#4f5566"/>
<text x="308.60" y="156.70" font-size="7.4" text-anchor="start" font-weight="normal" fill="#151515">GFP+</text>
<text x="308.60" y="168.00" font-size="7.4" text-anchor="start" font-weight="normal" fill="#151515">GFP<tspan font-size="4.6" dy="-0.6">-</tspan></text>
<text x="250.60" y="151.10" font-size="11.2" text-anchor="start" font-weight="bold" fill="#000" style="stroke:#000;stroke-width:0.2px">F</text>
<line x1="45.80" y1="354.54" x2="45.80" y2="363.89" stroke="#6fb352" stroke-width="0.9"/>
<line x1="44.45" y1="354.54" x2="47.15" y2="354.54" stroke="#559c36" stroke-width="1.0"/>
<rect x="43.70" y="364.19" width="4.20" height="12.61" fill="#66ad45" stroke="#559c36" stroke-width="0.6"/>
<line x1="51.38" y1="317.59" x2="51.38" y2="327.19" stroke="#737a8b" stroke-width="0.9"/>
<line x1="50.02" y1="317.59" x2="52.73" y2="317.59" stroke="#3a4152" stroke-width="1.0"/>
<rect x="49.30" y="327.49" width="4.15" height="49.31" fill="#4f5566" stroke="#3a4152" stroke-width="0.6"/>
<line x1="61.80" y1="314.41" x2="61.80" y2="334.32" stroke="#6fb352" stroke-width="0.9"/>
<line x1="60.45" y1="314.41" x2="63.15" y2="314.41" stroke="#559c36" stroke-width="1.0"/>
<rect x="59.70" y="334.62" width="4.20" height="42.18" fill="#66ad45" stroke="#559c36" stroke-width="0.6"/>
<line x1="67.38" y1="336.03" x2="67.38" y2="356.38" stroke="#737a8b" stroke-width="0.9"/>
<line x1="66.03" y1="336.03" x2="68.72" y2="336.03" stroke="#3a4152" stroke-width="1.0"/>
<rect x="65.30" y="356.68" width="4.15" height="20.12" fill="#4f5566" stroke="#3a4152" stroke-width="0.6"/>
<line x1="77.80" y1="314.73" x2="77.80" y2="332.15" stroke="#6fb352" stroke-width="0.9"/>
<line x1="76.45" y1="314.73" x2="79.15" y2="314.73" stroke="#559c36" stroke-width="1.0"/>
<rect x="75.70" y="332.45" width="4.20" height="44.35" fill="#66ad45" stroke="#559c36" stroke-width="0.6"/>
<line x1="83.38" y1="341.06" x2="83.38" y2="358.48" stroke="#737a8b" stroke-width="0.9"/>
<line x1="82.03" y1="341.06" x2="84.72" y2="341.06" stroke="#3a4152" stroke-width="1.0"/>
<rect x="81.30" y="358.78" width="4.15" height="18.02" fill="#4f5566" stroke="#3a4152" stroke-width="0.6"/>
<line x1="93.80" y1="327.89" x2="93.80" y2="343.92" stroke="#6fb352" stroke-width="0.9"/>
<line x1="92.45" y1="327.89" x2="95.15" y2="327.89" stroke="#559c36" stroke-width="1.0"/>
<rect x="91.70" y="344.22" width="4.20" height="32.58" fill="#66ad45" stroke="#559c36" stroke-width="0.6"/>
<line x1="99.38" y1="330.44" x2="99.38" y2="346.78" stroke="#737a8b" stroke-width="0.9"/>
<line x1="98.03" y1="330.44" x2="100.72" y2="330.44" stroke="#3a4152" stroke-width="1.0"/>
<rect x="97.30" y="347.08" width="4.15" height="29.72" fill="#4f5566" stroke="#3a4152" stroke-width="0.6"/>
<line x1="109.80" y1="319.69" x2="109.80" y2="329.74" stroke="#6fb352" stroke-width="0.9"/>
<line x1="108.45" y1="319.69" x2="111.15" y2="319.69" stroke="#559c36" stroke-width="1.0"/>
<rect x="107.70" y="330.04" width="4.20" height="46.76" fill="#66ad45" stroke="#559c36" stroke-width="0.6"/>
<line x1="115.38" y1="351.36" x2="115.38" y2="360.96" stroke="#737a8b" stroke-width="0.9"/>
<line x1="114.03" y1="351.36" x2="116.72" y2="351.36" stroke="#3a4152" stroke-width="1.0"/>
<rect x="113.30" y="361.26" width="4.15" height="15.54" fill="#4f5566" stroke="#3a4152" stroke-width="0.6"/>
<rect x="123.70" y="316.81" width="4.20" height="59.99" fill="#66ad45" stroke="#559c36" stroke-width="0.6"/>
<rect x="129.30" y="373.41" width="4.15" height="3.39" fill="#4f5566" stroke="#3a4152" stroke-width="0.6"/>
<line x1="40.10" y1="309.90" x2="40.10" y2="377.40" stroke="#222" stroke-width="1.2"/>
<line x1="37.30" y1="376.80" x2="137.00" y2="376.80" stroke="#222" stroke-width="1.2"/>
<line x1="37.30" y1="376.80" x2="40.10" y2="376.80" stroke="#222" stroke-width="1.0"/>
<text transform="translate(33.80 379.40) scale(0.92 1)" font-size="8.3" text-anchor="end" font-weight="normal" fill="#151515">0</text>
<line x1="37.30" y1="360.90" x2="40.10" y2="360.90" stroke="#222" stroke-width="1.0"/>
<text transform="translate(33.80 363.50) scale(0.92 1)" font-size="8.3" text-anchor="end" font-weight="normal" fill="#151515">25</text>
<line x1="37.30" y1="345.00" x2="40.10" y2="345.00" stroke="#222" stroke-width="1.0"/>
<text transform="translate(33.80 347.60) scale(0.92 1)" font-size="8.3" text-anchor="end" font-weight="normal" fill="#151515">50</text>
<line x1="37.30" y1="329.10" x2="40.10" y2="329.10" stroke="#222" stroke-width="1.0"/>
<text transform="translate(33.80 331.70) scale(0.92 1)" font-size="8.3" text-anchor="end" font-weight="normal" fill="#151515">75</text>
<line x1="37.30" y1="313.20" x2="40.10" y2="313.20" stroke="#222" stroke-width="1.0"/>
<text transform="translate(33.80 315.80) scale(0.92 1)" font-size="8.3" text-anchor="end" font-weight="normal" fill="#151515">100</text>
<line x1="48.50" y1="376.80" x2="48.50" y2="380.40" stroke="#222" stroke-width="1.0"/>
<text transform="translate(48.40 390.60) scale(0.92 1)" font-size="8.3" text-anchor="middle" font-weight="normal" fill="#151515">3</text>
<line x1="64.50" y1="376.80" x2="64.50" y2="380.40" stroke="#222" stroke-width="1.0"/>
<text transform="translate(64.40 390.60) scale(0.92 1)" font-size="8.3" text-anchor="middle" font-weight="normal" fill="#151515">7</text>
<line x1="80.50" y1="376.80" x2="80.50" y2="380.40" stroke="#222" stroke-width="1.0"/>
<text transform="translate(80.40 390.60) scale(0.92 1)" font-size="8.3" text-anchor="middle" font-weight="normal" fill="#151515">11</text>
<line x1="96.50" y1="376.80" x2="96.50" y2="380.40" stroke="#222" stroke-width="1.0"/>
<text transform="translate(96.40 390.60) scale(0.92 1)" font-size="8.3" text-anchor="middle" font-weight="normal" fill="#151515">15</text>
<line x1="112.50" y1="376.80" x2="112.50" y2="380.40" stroke="#222" stroke-width="1.0"/>
<text transform="translate(112.40 390.60) scale(0.92 1)" font-size="8.3" text-anchor="middle" font-weight="normal" fill="#151515">19</text>
<line x1="128.50" y1="376.80" x2="128.50" y2="380.40" stroke="#222" stroke-width="1.0"/>
<text transform="translate(128.40 390.60) scale(0.92 1)" font-size="8.3" text-anchor="middle" font-weight="normal" fill="#151515">23</text>
<text x="62.80" y="402.70" font-size="8.6" text-anchor="start" font-weight="normal" fill="#151515" textLength="51.20" lengthAdjust="spacingAndGlyphs" style="stroke-width:0.45px">Weeks post-HSCT</text>
<text x="14.40" y="343.30" font-size="8.8" text-anchor="middle" font-weight="normal" fill="#151515" textLength="29.20" lengthAdjust="spacingAndGlyphs" transform="rotate(-90 14.40 343.30)" style="stroke-width:0.45px">Myeloid %</text>
<rect x="44.10" y="286.50" width="10.20" height="3.70" fill="#66ad45"/>
<rect x="44.10" y="297.70" width="10.20" height="3.70" fill="#4f5566"/>
<text x="57.30" y="290.50" font-size="7.4" text-anchor="start" font-weight="normal" fill="#151515">GFP+</text>
<text x="57.30" y="301.80" font-size="7.4" text-anchor="start" font-weight="normal" fill="#151515">GFP<tspan font-size="4.6" dy="-0.6">-</tspan></text>
<text x="6.90" y="285.30" font-size="11.2" text-anchor="start" font-weight="bold" fill="#000" style="stroke:#000;stroke-width:0.2px">G</text>
<rect x="197.30" y="317.32" width="26.80" height="59.68" fill="#c6c4c9"/>
<rect x="238.10" y="316.71" width="27.20" height="60.29" fill="#c6c4c9"/>
<line x1="204.80" y1="316.35" x2="216.20" y2="316.35" stroke="#62ad45" stroke-width="0.9"/>
<circle cx="204.80" cy="316.20" r="1.95" fill="#55a534"/>
<circle cx="210.60" cy="317.20" r="1.95" fill="#55a534"/>
<circle cx="216.20" cy="316.50" r="1.95" fill="#55a534"/>
<rect x="238.25" y="314.75" width="3.3" height="3.3" fill="#b2c888" stroke="#a0b976" stroke-width="0.5"/>
<rect x="242.55" y="314.75" width="3.3" height="3.3" fill="#b2c888" stroke="#a0b976" stroke-width="0.5"/>
<rect x="244.35" y="314.75" width="3.3" height="3.3" fill="#b2c888" stroke="#a0b976" stroke-width="0.5"/>
<rect x="247.65" y="315.75" width="3.3" height="3.3" fill="#b2c888" stroke="#a0b976" stroke-width="0.5"/>
<rect x="252.35" y="314.75" width="3.3" height="3.3" fill="#b2c888" stroke="#a0b976" stroke-width="0.5"/>
<rect x="257.15" y="314.75" width="3.3" height="3.3" fill="#b2c888" stroke="#a0b976" stroke-width="0.5"/>
<rect x="261.75" y="314.75" width="3.3" height="3.3" fill="#b2c888" stroke="#a0b976" stroke-width="0.5"/>
<line x1="183.10" y1="312.80" x2="183.10" y2="377.60" stroke="#222" stroke-width="1.2"/>
<line x1="180.30" y1="377.00" x2="278.80" y2="377.00" stroke="#222" stroke-width="1.2"/>
<line x1="180.30" y1="377.00" x2="183.10" y2="377.00" stroke="#222" stroke-width="1.0"/>
<text transform="translate(176.70 379.60) scale(0.92 1)" font-size="8.3" text-anchor="end" font-weight="normal" fill="#151515">0</text>
<line x1="180.30" y1="364.82" x2="183.10" y2="364.82" stroke="#222" stroke-width="1.0"/>
<text transform="translate(176.70 367.42) scale(0.92 1)" font-size="8.3" text-anchor="end" font-weight="normal" fill="#151515">20</text>
<line x1="180.30" y1="352.64" x2="183.10" y2="352.64" stroke="#222" stroke-width="1.0"/>
<text transform="translate(176.70 355.24) scale(0.92 1)" font-size="8.3" text-anchor="end" font-weight="normal" fill="#151515">40</text>
<line x1="180.30" y1="340.46" x2="183.10" y2="340.46" stroke="#222" stroke-width="1.0"/>
<text transform="translate(176.70 343.06) scale(0.92 1)" font-size="8.3" text-anchor="end" font-weight="normal" fill="#151515">60</text>
<line x1="180.30" y1="328.28" x2="183.10" y2="328.28" stroke="#222" stroke-width="1.0"/>
<text transform="translate(176.70 330.88) scale(0.92 1)" font-size="8.3" text-anchor="end" font-weight="normal" fill="#151515">80</text>
<line x1="180.30" y1="316.10" x2="183.10" y2="316.10" stroke="#222" stroke-width="1.0"/>
<text transform="translate(176.70 318.70) scale(0.92 1)" font-size="8.3" text-anchor="end" font-weight="normal" fill="#151515">100</text>
<line x1="210.50" y1="377.00" x2="210.50" y2="380.60" stroke="#222" stroke-width="1.0"/>
<text x="210.70" y="389.60" font-size="8.3" text-anchor="middle" font-weight="normal" fill="#151515" textLength="25.20" lengthAdjust="spacingAndGlyphs">Primary</text>
<line x1="251.50" y1="377.00" x2="251.50" y2="380.60" stroke="#222" stroke-width="1.0"/>
<text x="251.70" y="389.60" font-size="8.3" text-anchor="middle" font-weight="normal" fill="#151515" textLength="36.80" lengthAdjust="spacingAndGlyphs">Secondary</text>
<text x="216.60" y="401.80" font-size="8.6" text-anchor="start" font-weight="normal" fill="#151515" textLength="29.80" lengthAdjust="spacingAndGlyphs" style="stroke-width:0.45px">Recipients</text>
<text x="157.20" y="345.00" font-size="8.8" text-anchor="middle" font-weight="normal" fill="#151515" textLength="50.00" lengthAdjust="spacingAndGlyphs" transform="rotate(-90 157.20 345.00)" style="stroke-width:0.45px">% GFP<tspan font-size="5" dy="-2.5">+</tspan><tspan dy="2.5"> platelets</tspan></text>
<text x="146.80" y="284.90" font-size="11.2" text-anchor="start" font-weight="bold" fill="#000" style="stroke:#000;stroke-width:0.2px">H</text>
<rect x="339.90" y="320.18" width="27.20" height="56.82" fill="#c6c4c9"/>
<rect x="380.90" y="320.48" width="27.00" height="56.52" fill="#c6c4c9"/>
<line x1="347.50" y1="319.80" x2="359.10" y2="319.80" stroke="#62ad45" stroke-width="0.9"/>
<circle cx="347.50" cy="319.80" r="1.95" fill="#55a534"/>
<circle cx="353.30" cy="320.00" r="1.95" fill="#55a534"/>
<circle cx="359.10" cy="319.80" r="1.95" fill="#55a534"/>
<rect x="380.95" y="317.20" width="3.3" height="3.3" fill="#b2c888" stroke="#a0b976" stroke-width="0.5"/>
<rect x="385.60" y="318.25" width="3.3" height="3.3" fill="#b2c888" stroke="#a0b976" stroke-width="0.5"/>
<rect x="389.65" y="318.45" width="3.3" height="3.3" fill="#b2c888" stroke="#a0b976" stroke-width="0.5"/>
<rect x="391.15" y="318.50" width="3.3" height="3.3" fill="#b2c888" stroke="#a0b976" stroke-width="0.5"/>
<rect x="395.05" y="318.25" width="3.3" height="3.3" fill="#b2c888" stroke="#a0b976" stroke-width="0.5"/>
<rect x="399.35" y="317.35" width="3.3" height="3.3" fill="#b2c888" stroke="#a0b976" stroke-width="0.5"/>
<rect x="404.45" y="316.80" width="3.3" height="3.3" fill="#b2c888" stroke="#a0b976" stroke-width="0.5"/>
<line x1="326.00" y1="312.80" x2="326.00" y2="377.60" stroke="#222" stroke-width="1.2"/>
<line x1="323.20" y1="377.00" x2="422.10" y2="377.00" stroke="#222" stroke-width="1.2"/>
<line x1="323.20" y1="377.00" x2="326.00" y2="377.00" stroke="#222" stroke-width="1.0"/>
<text transform="translate(319.60 379.60) scale(0.92 1)" font-size="8.3" text-anchor="end" font-weight="normal" fill="#151515">0</text>
<line x1="323.20" y1="364.82" x2="326.00" y2="364.82" stroke="#222" stroke-width="1.0"/>
<text transform="translate(319.60 367.42) scale(0.92 1)" font-size="8.3" text-anchor="end" font-weight="normal" fill="#151515">20</text>
<line x1="323.20" y1="352.64" x2="326.00" y2="352.64" stroke="#222" stroke-width="1.0"/>
<text transform="translate(319.60 355.24) scale(0.92 1)" font-size="8.3" text-anchor="end" font-weight="normal" fill="#151515">40</text>
<line x1="323.20" y1="340.46" x2="326.00" y2="340.46" stroke="#222" stroke-width="1.0"/>
<text transform="translate(319.60 343.06) scale(0.92 1)" font-size="8.3" text-anchor="end" font-weight="normal" fill="#151515">60</text>
<line x1="323.20" y1="328.28" x2="326.00" y2="328.28" stroke="#222" stroke-width="1.0"/>
<text transform="translate(319.60 330.88) scale(0.92 1)" font-size="8.3" text-anchor="end" font-weight="normal" fill="#151515">80</text>
<line x1="323.20" y1="316.10" x2="326.00" y2="316.10" stroke="#222" stroke-width="1.0"/>
<text transform="translate(319.60 318.70) scale(0.92 1)" font-size="8.3" text-anchor="end" font-weight="normal" fill="#151515">100</text>
<line x1="353.50" y1="377.00" x2="353.50" y2="380.60" stroke="#222" stroke-width="1.0"/>
<text x="353.50" y="389.60" font-size="8.3" text-anchor="middle" font-weight="normal" fill="#151515" textLength="25.20" lengthAdjust="spacingAndGlyphs">Primary</text>
<line x1="394.50" y1="377.00" x2="394.50" y2="380.60" stroke="#222" stroke-width="1.0"/>
<text x="394.40" y="389.60" font-size="8.3" text-anchor="middle" font-weight="normal" fill="#151515" textLength="36.80" lengthAdjust="spacingAndGlyphs">Secondary</text>
<text x="359.80" y="401.80" font-size="8.6" text-anchor="start" font-weight="normal" fill="#151515" textLength="29.20" lengthAdjust="spacingAndGlyphs" style="stroke-width:0.45px">Recipients</text>
<text x="299.90" y="344.60" font-size="8.8" text-anchor="middle" font-weight="normal" fill="#151515" textLength="56.50" lengthAdjust="spacingAndGlyphs" transform="rotate(-90 299.90 344.60)" style="stroke-width:0.45px">% GFP<tspan font-size="5" dy="-2.5">+</tspan><tspan dy="2.5"> leukocytes</tspan></text>
<text x="289.20" y="284.70" font-size="11.2" text-anchor="start" font-weight="bold" fill="#000" style="stroke:#000;stroke-width:0.2px">I</text>
<text x="7.40" y="16.90" font-size="11.3" text-anchor="start" font-weight="bold" fill="#000" style="stroke:#000;stroke-width:0.2px">A</text>
<text x="27.40" y="28.60" font-size="8.2" text-anchor="start" font-weight="normal" fill="#151515" textLength="47.20" lengthAdjust="spacingAndGlyphs">CD45.2/GFP</text>
<text x="74.40" y="25.00" font-size="5.2" text-anchor="start" font-weight="normal" fill="#151515" textLength="6.00" lengthAdjust="spacingAndGlyphs">Tg</text>
<g transform="translate(35.0 30.5) scale(1.0 1.0)">
<path d="M0.19,4.44 L1.4,3.5 L3.0,2.9 L4.5,2.5 L5.1,1.1 L5.7,0.3 L6.3,0.9 L6.9,2.5 L7.6,2.8 L9.2,2.0 L10.6,1.75 L11.15,2.1 L10.7,2.75 L9.4,3.6 L9.0,4.3 L10.41,5.71 L12.12,7.75 L13.68,10.43 L14.46,12.86 L14.16,14.71 L12.85,15.54 L11.24,16.03 L4.09,16.03 L3.65,15.44 L4.43,15.05 L5.55,14.66 L6.03,13.11 L5.79,11.26 L5.30,9.99 L3.84,9.31 L2.19,9.41 L2.09,8.82 L3.36,8.24 L4.43,7.85 L4.72,7.17 L3.94,6.19 L2.48,5.61 L1.02,5.22 L0.34,4.83 Z" fill="#55a236" stroke="#55a236" stroke-width="0.3" stroke-linejoin="round"/>
<path d="M13.68,15.05 C15.6,14.3 16.8,12.2 16.74,9.31 C16.7,7.2 16.3,5.2 17.2,3.8 C17.9,2.8 19.3,2.2 20.98,2.01" fill="none" stroke="#55a236" stroke-width="1.05" stroke-linecap="round" stroke-linejoin="round"/>
<path d="M8.47,9.94 L7.54,11.74 L7.25,15.05" fill="none" stroke="#8fcb6e" stroke-width="0.6" vector-effect="non-scaling-stroke"/>
</g>
<path d="M54.3,43.2 C57.6,44.0 60.6,47.0 60.9,53.3 L59.2,53.3 C58.9,48.4 57.2,45.4 54.3,43.9 Z" fill="#111"/>
<path d="M57.0,52.9 L62.8,52.9 L60.0,57.5 Z" fill="#111"/>
<text x="26.60" y="66.70" font-size="8.8" text-anchor="start" font-weight="normal" fill="#151515" textLength="18.80" lengthAdjust="spacingAndGlyphs">Sca-1</text>
<text x="46.10" y="63.30" font-size="6.8" text-anchor="start" font-weight="normal" fill="#151515">+</text>
<text x="31.10" y="76.10" font-size="8.8" text-anchor="start" font-weight="normal" fill="#151515" textLength="14.80" lengthAdjust="spacingAndGlyphs">cells</text>
<circle cx="58.6" cy="61.4" r="2.25" fill="#6cb83e" stroke="#2d4f98" stroke-width="0.75"/>
<circle cx="54.4" cy="64.3" r="2.25" fill="#6cb83e" stroke="#2d4f98" stroke-width="0.75"/>
<circle cx="64.1" cy="64.0" r="2.25" fill="#6cb83e" stroke="#2d4f98" stroke-width="0.75"/>
<circle cx="59.0" cy="67.0" r="2.25" fill="#6cb83e" stroke="#2d4f98" stroke-width="0.75"/>
<circle cx="52.3" cy="68.9" r="2.25" fill="#6cb83e" stroke="#2d4f98" stroke-width="0.75"/>
<circle cx="65.7" cy="69.1" r="2.25" fill="#6cb83e" stroke="#2d4f98" stroke-width="0.75"/>
<circle cx="56.0" cy="72.1" r="2.25" fill="#6cb83e" stroke="#2d4f98" stroke-width="0.75"/>
<circle cx="61.7" cy="72.1" r="2.25" fill="#6cb83e" stroke="#2d4f98" stroke-width="0.75"/>
<text x="60.20" y="82.80" font-size="8.2" text-anchor="start" font-weight="normal" fill="#151515" textLength="45.00" lengthAdjust="spacingAndGlyphs">(CD45.2+CD</text>
<text x="66.30" y="92.50" font-size="8.2" text-anchor="start" font-weight="normal" fill="#151515" textLength="34.00" lengthAdjust="spacingAndGlyphs">117)-ADC</text>
<path d="M56.6,79.2 C55.6,83.0 53.3,88.0 53.0,95.0 L52.9,105.2" fill="none" stroke="#b7c996" stroke-width="1.0"/>
<path d="M50.9,104.4 L55.0,104.4 L52.9,109.8 Z" fill="#a8bc82"/>
<path d="M67.6,99.4 C64.6,100.0 61.6,101.8 60.4,104.9" fill="none" stroke="#22428c" stroke-width="1.1"/>
<path d="M58.1,103.2 L62.6,105.4 L59.2,108.7 Z" fill="#1f3d86"/>
<g stroke-linecap="butt">
<line x1="72.4" y1="99.6" x2="72.4" y2="109.7" stroke="#a4c0e6" stroke-width="1.0"/>
<line x1="73.4" y1="99.6" x2="73.4" y2="109.7" stroke="#3f62a8" stroke-width="1.0"/>
<line x1="75.0" y1="99.6" x2="75.0" y2="109.7" stroke="#a4c0e6" stroke-width="1.0"/>
<line x1="76.0" y1="99.6" x2="76.0" y2="109.7" stroke="#3f62a8" stroke-width="1.0"/>
<line x1="73.6" y1="100.0" x2="69.5" y2="94.6" stroke="#3f62a8" stroke-width="1.0"/>
<line x1="72.8" y1="100.6" x2="68.6" y2="95.2" stroke="#a4c0e6" stroke-width="1.0"/>
<line x1="71.8" y1="101.3" x2="67.6" y2="95.9" stroke="#d24a44" stroke-width="1.1"/>
<line x1="74.9" y1="100.0" x2="79.0" y2="94.6" stroke="#3f62a8" stroke-width="1.0"/>
<line x1="75.7" y1="100.6" x2="79.9" y2="95.2" stroke="#a4c0e6" stroke-width="1.0"/>
<line x1="76.7" y1="101.3" x2="80.9" y2="95.9" stroke="#d24a44" stroke-width="1.1"/>
</g>
<g transform="translate(93.4 108.8) rotate(35)">
<ellipse cx="0" cy="0" rx="5.6" ry="7.7" fill="#343434"/>
<ellipse cx="0" cy="0" rx="4.2" ry="6.3" fill="#505050"/>
<path d="M-3.4,-4.2 L-1.8,-3.2 L-0.6,-4.6 L0.8,-3.0 L2.2,-4.4 L3.2,-3.2 M-4.0,-1.2 L-2.4,-0.2 L-1.0,-1.8 L0.6,-0.2 L2.0,-1.6 L3.8,-0.4 M-4.0,1.8 L-2.4,2.8 L-1.0,1.2 L0.6,2.8 L2.0,1.4 L3.8,2.6 M-2.8,4.6 L-1.4,5.4 L0.0,4.2 L1.4,5.4 L2.6,4.4" fill="none" stroke="#8c8c8c" stroke-width="0.6" stroke-linejoin="round"/>
</g>
<path d="M88.2,97.0 C91.6,98.4 92.6,102.4 90.7,105.6 C88.7,108.6 85.2,109.9 81.7,109.6 C84.8,108.4 87.7,106.4 88.7,103.3 C89.3,101.2 89.2,99.0 88.2,97.0 Z" fill="#3a6cc0"/>
<circle cx="82.5" cy="102.6" r="4.25" fill="#3f9c2c" stroke="#1c2f6a" stroke-width="0.9"/>
<circle cx="81.4" cy="101.6" r="0.7" fill="#2a6a1c"/><circle cx="84.0" cy="103.8" r="0.8" fill="#2a6a1c"/><circle cx="82.4" cy="104.9" r="0.5" fill="#2a6a1c"/><circle cx="84.3" cy="100.6" r="0.5" fill="#2a6a1c"/>
<text x="31.50" y="116.10" font-size="8.3" text-anchor="middle" font-weight="normal" fill="#151515" textLength="24.80" lengthAdjust="spacingAndGlyphs">Primary</text>
<text x="31.45" y="125.90" font-size="8.3" text-anchor="middle" font-weight="normal" fill="#151515" textLength="28.60" lengthAdjust="spacingAndGlyphs">recipient</text>
<g transform="translate(48.78 110.64) scale(0.76 1.0)">
<path d="M0.19,4.44 L1.4,3.5 L3.0,2.9 L4.5,2.5 L5.1,1.1 L5.7,0.3 L6.3,0.9 L6.9,2.5 L7.6,2.8 L9.2,2.0 L10.6,1.75 L11.15,2.1 L10.7,2.75 L9.4,3.6 L9.0,4.3 L10.41,5.71 L12.12,7.75 L13.68,10.43 L14.46,12.86 L14.16,14.71 L12.85,15.54 L11.24,16.03 L4.09,16.03 L3.65,15.44 L4.43,15.05 L5.55,14.66 L6.03,13.11 L5.79,11.26 L5.30,9.99 L3.84,9.31 L2.19,9.41 L2.09,8.82 L3.36,8.24 L4.43,7.85 L4.72,7.17 L3.94,6.19 L2.48,5.61 L1.02,5.22 L0.34,4.83 Z" fill="#141414" stroke="#141414" stroke-width="0.3" stroke-linejoin="round"/>
<path d="M13.68,15.05 C15.6,14.3 16.8,12.2 16.74,9.31 C16.7,7.2 16.3,5.2 17.2,3.8 C17.9,2.8 19.3,2.2 20.98,2.01" fill="none" stroke="#141414" stroke-width="1.05" stroke-linecap="round" stroke-linejoin="round"/>
<path d="M8.47,9.94 L7.54,11.74 L7.25,15.05" fill="none" stroke="#555" stroke-width="0.6" vector-effect="non-scaling-stroke"/>
</g>
<text x="28.50" y="138.90" font-size="8.2" text-anchor="start" font-weight="normal" fill="#151515" textLength="47.40" lengthAdjust="spacingAndGlyphs">CD45.2/FVIII</text>
<text x="76.10" y="134.90" font-size="5.0" text-anchor="start" font-weight="normal" fill="#151515" textLength="7.50" lengthAdjust="spacingAndGlyphs">null</text>
<line x1="50.75" y1="143.3" x2="50.75" y2="163.5" stroke="#5fae3e" stroke-width="1.0"/>
<path d="M48.1,162.6 L53.3,162.6 L50.6,167.7 Z" fill="#56a637"/>
<text x="55.70" y="160.70" font-size="8.2" text-anchor="start" font-weight="normal" fill="#151515" textLength="33.90" lengthAdjust="spacingAndGlyphs">11 Gy TBI</text>
<path d="M64.0,161.3 L65.1,163.5 L65.0,166.2 L61.0,169.6 L56.4,173.4 L59.4,167.6 L62.5,163.3 Z" fill="#111"/>
<text x="29.00" y="174.90" font-size="8.3" text-anchor="middle" font-weight="normal" fill="#151515" textLength="36.80" lengthAdjust="spacingAndGlyphs">Secondary</text>
<text x="28.65" y="184.20" font-size="8.3" text-anchor="middle" font-weight="normal" fill="#151515" textLength="28.60" lengthAdjust="spacingAndGlyphs">recipient</text>
<g transform="translate(47.06 168.67) scale(0.74 1.02)">
<path d="M0.19,4.44 L1.4,3.5 L3.0,2.9 L4.5,2.5 L5.1,1.1 L5.7,0.3 L6.3,0.9 L6.9,2.5 L7.6,2.8 L9.2,2.0 L10.6,1.75 L11.15,2.1 L10.7,2.75 L9.4,3.6 L9.0,4.3 L10.41,5.71 L12.12,7.75 L13.68,10.43 L14.46,12.86 L14.16,14.71 L12.85,15.54 L11.24,16.03 L4.09,16.03 L3.65,15.44 L4.43,15.05 L5.55,14.66 L6.03,13.11 L5.79,11.26 L5.30,9.99 L3.84,9.31 L2.19,9.41 L2.09,8.82 L3.36,8.24 L4.43,7.85 L4.72,7.17 L3.94,6.19 L2.48,5.61 L1.02,5.22 L0.34,4.83 Z" fill="#141414" stroke="#141414" stroke-width="0.3" stroke-linejoin="round"/>
<path d="M13.68,15.05 C15.6,14.3 16.8,12.2 16.74,9.31 C16.7,7.2 16.3,5.2 17.2,3.8 C17.9,2.8 19.3,2.2 20.98,2.01" fill="none" stroke="#141414" stroke-width="1.05" stroke-linecap="round" stroke-linejoin="round"/>
<path d="M8.47,9.94 L7.54,11.74 L7.25,15.05" fill="none" stroke="#555" stroke-width="0.6" vector-effect="non-scaling-stroke"/>
</g>
<text x="30.70" y="196.95" font-size="8.2" text-anchor="start" font-weight="normal" fill="#151515" textLength="47.30" lengthAdjust="spacingAndGlyphs">CD45.2/FVIII</text>
<text x="78.20" y="192.90" font-size="5.0" text-anchor="start" font-weight="normal" fill="#151515" textLength="7.80" lengthAdjust="spacingAndGlyphs">null</text>
</svg>
<svg width="520" height="411" viewBox="0 0 520 411" style="position:absolute;left:0;top:0;filter:none">
<rect x="0" y="0" width="520" height="1.15" fill="#000"/>
<rect x="0" y="0" width="1.1" height="411" fill="#000"/>
<rect x="518.6" y="0" width="1.4" height="411" fill="#000"/>
<rect x="0" y="409.4" width="520" height="1.6" fill="#000"/>
</svg>
</body></html>
